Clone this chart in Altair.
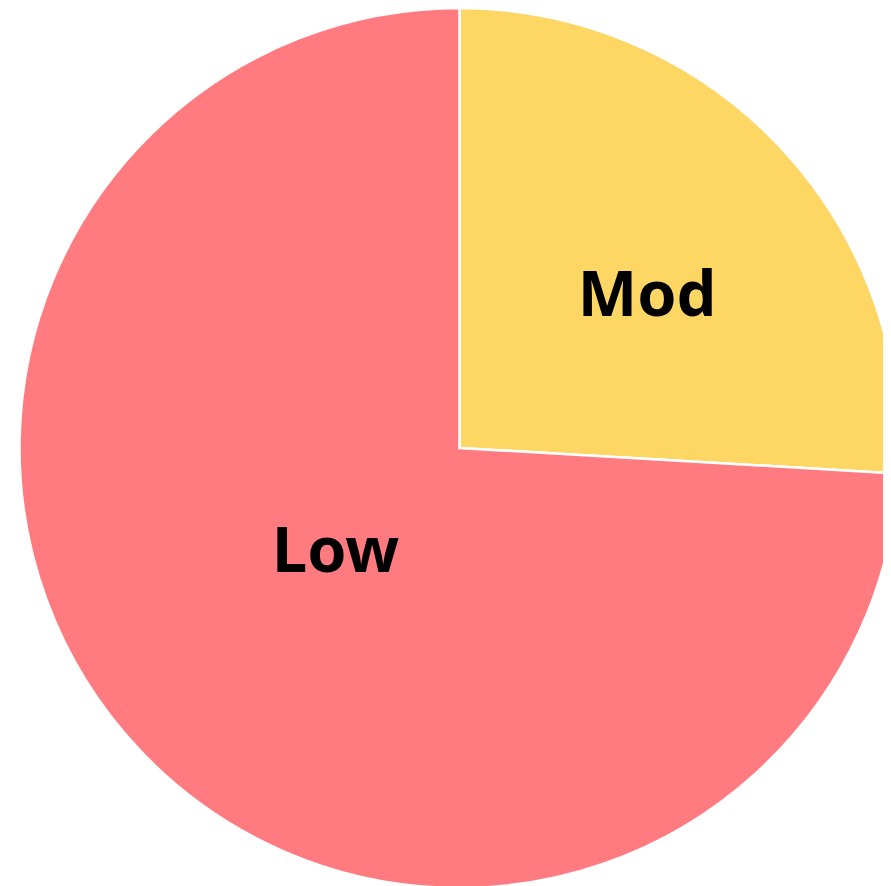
import altair as alt
import pandas as pd

categories = ["Mod", "Low"]
values = [7, 20]
colors = ["#fdd664", "#ff7b80"]

df = pd.DataFrame({
    "category": categories,
    "value": values,
    "order": list(range(len(categories))),
})

CX, CY, R = 451.5, 440, 440

base = alt.Chart(df).transform_window(
    cum="sum(value)", sort=[alt.SortField("order")]
).transform_joinaggregate(
    total="sum(value)"
).transform_calculate(
    mid="2*PI*(datum.cum - datum.value/2)/datum.total"
)

pie = alt.Chart(df).mark_arc(outerRadius=R, stroke="white", strokeWidth=2.5).encode(
    theta=alt.Theta("value:Q", stack=True),
    order=alt.Order("order:Q"),
    color=alt.Color("category:N", scale=alt.Scale(domain=categories, range=colors), legend=None),
    x=alt.value(CX),
    y=alt.value(CY),
)


def label(cat, radius, dx, dy):
    return base.transform_filter(alt.datum.category == cat).mark_text(
        font="Noto Sans", fontWeight="bold", fontSize=63, color="black",
        baseline="middle", align="center", dx=dx, dy=dy,
    ).encode(
        text="category:N",
        theta=alt.Theta("mid:Q", scale=None),
        radius=alt.value(radius),
        x=alt.value(CX),
        y=alt.value(CY),
    )


chart = alt.layer(pie, label("Mod", 240, 13, 14), label("Low", 162, -6, -6)).properties(
    width=875, height=880, padding=0, autosize=alt.AutoSizeParams(type="none"),
).configure_view(stroke=None)

chart.save("out.html", embed_options={"renderer": "svg", "actions": False})
